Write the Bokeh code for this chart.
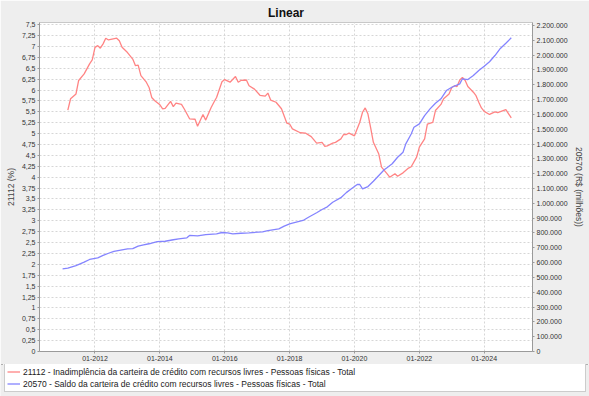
import pandas as pd
from bokeh.plotting import figure
from bokeh.layouts import column, row
from bokeh.models import (Range1d, LinearAxis, FixedTicker, DatetimeTickFormatter,
                          Legend, LegendItem, ColumnDataSource)
from bokeh.embed import file_html
from bokeh.resources import INLINE

title_text = "Linear"
red_label = "21112 - Inadimplência da carteira de crédito com recursos livres - Pessoas físicas - Total"
blue_label = "20570 - Saldo da carteira de crédito com recursos livres - Pessoas físicas - Total"
left_axis_label = "21112 (%)"
right_axis_label = "20570 (R$ (milhões))"

red_months = ["2011-03", "2011-04", "2011-06", "2011-07", "2011-09", "2011-11", "2011-12",
              "2012-01", "2012-02", "2012-03", "2012-04", "2012-05", "2012-06", "2012-09",
              "2012-10", "2012-11", "2013-01", "2013-03", "2013-04", "2013-05", "2013-06",
              "2013-08", "2013-09", "2013-10", "2013-11", "2014-01", "2014-02", "2014-03",
              "2014-05", "2014-06", "2014-07", "2014-09", "2014-10", "2014-12", "2015-02",
              "2015-03", "2015-05", "2015-06", "2015-08", "2015-09", "2015-10", "2015-12",
              "2016-01", "2016-03", "2016-05", "2016-06", "2016-07", "2016-09", "2016-10",
              "2016-12", "2017-02", "2017-04", "2017-05", "2017-06", "2017-08", "2017-10",
              "2017-12", "2018-01", "2018-02", "2018-05", "2018-07", "2018-09", "2018-11",
              "2019-01", "2019-02", "2019-03", "2019-05", "2019-06", "2019-08", "2019-09",
              "2019-10", "2019-11", "2020-01", "2020-02", "2020-03", "2020-04", "2020-05",
              "2020-06", "2020-07", "2020-08", "2020-10", "2020-11", "2021-01", "2021-02",
              "2021-04", "2021-05", "2021-07", "2021-09", "2021-10", "2021-12", "2022-01",
              "2022-03", "2022-04", "2022-06", "2022-07", "2022-09", "2022-10", "2022-12",
              "2023-01", "2023-02", "2023-03", "2023-04", "2023-05", "2023-06", "2023-07",
              "2023-09", "2023-10", "2023-11", "2023-12", "2024-01", "2024-03", "2024-05",
              "2024-06", "2024-09", "2024-11"]
red_values = [5.54, 5.80, 5.91, 6.22, 6.37, 6.60, 6.69,
              6.98, 7.02, 6.96, 7.06, 7.19, 7.15, 7.19,
              7.13, 6.98, 6.86, 6.71, 6.56, 6.57, 6.33,
              6.18, 6.06, 5.83, 5.76, 5.66, 5.57, 5.58,
              5.74, 5.62, 5.70, 5.67, 5.57, 5.34, 5.33,
              5.17, 5.44, 5.31, 5.60, 5.72, 5.83, 6.19,
              6.24, 6.18, 6.31, 6.18, 6.22, 6.23, 6.10,
              6.02, 5.88, 5.86, 5.93, 5.77, 5.72, 5.57,
              5.24, 5.22, 5.11, 5.02, 5.01, 4.93, 4.78,
              4.80, 4.71, 4.72, 4.78, 4.80, 4.88, 4.98,
              4.98, 5.01, 4.95, 5.11, 5.26, 5.49, 5.59,
              5.45, 5.14, 4.80, 4.53, 4.23, 4.08, 4.00,
              4.08, 4.02, 4.10, 4.21, 4.24, 4.46, 4.69,
              4.88, 5.22, 5.26, 5.53, 5.67, 5.80, 5.91,
              6.06, 6.10, 6.08, 6.23, 6.29, 6.22, 6.08,
              5.95, 5.87, 5.72, 5.59, 5.51, 5.44, 5.50,
              5.48, 5.55, 5.36]

blue_months = ["2011-01", "2011-03", "2011-06", "2011-09", "2011-11", "2012-02", "2012-04",
               "2012-06", "2012-08", "2012-11", "2013-01", "2013-03", "2013-05", "2013-07",
               "2013-09", "2013-12", "2014-03", "2014-06", "2014-08", "2014-11", "2014-12",
               "2015-03", "2015-06", "2015-10", "2015-12", "2016-02", "2016-04", "2016-07",
               "2016-10", "2017-03", "2017-05", "2017-09", "2017-11", "2018-01", "2018-02",
               "2018-06", "2018-08", "2018-11", "2019-01", "2019-03", "2019-05", "2019-08",
               "2019-10", "2019-12", "2020-02", "2020-03", "2020-04", "2020-06", "2020-08",
               "2020-10", "2020-12", "2021-01", "2021-03", "2021-05", "2021-07", "2021-08",
               "2021-10", "2021-11", "2022-01", "2022-03", "2022-05", "2022-07", "2022-09",
               "2022-11", "2023-01", "2023-04", "2023-05", "2023-07", "2023-09", "2023-11",
               "2024-01", "2024-03", "2024-05", "2024-07", "2024-09", "2024-11"]
blue_values = [558000, 562000, 580000, 603000, 621000, 632000, 648000,
               663000, 675000, 686000, 693000, 694000, 711000, 720000,
               727000, 742000, 744000, 754000, 760000, 767000, 783000,
               780000, 789000, 794000, 803000, 801000, 794000, 798000,
               801000, 807000, 816000, 828000, 846000, 861000, 866000,
               884000, 906000, 936000, 958000, 976000, 1007000, 1038000,
               1072000, 1100000, 1127000, 1127000, 1097000, 1113000, 1149000,
               1188000, 1226000, 1240000, 1267000, 1311000, 1345000, 1401000,
               1468000, 1513000, 1536000, 1592000, 1637000, 1675000, 1705000,
               1761000, 1783000, 1806000, 1840000, 1835000, 1862000, 1896000,
               1925000, 1955000, 1997000, 2045000, 2080000, 2117000]

x_tick_labels = ["01-2012", "01-2014", "01-2016", "01-2018", "01-2020", "01-2022", "01-2024"]
left_tick_labels = ["0", "0,25", "0,5", "0,75", "1", "1,25", "1,5", "1,75", "2", "2,25",
                    "2,5", "2,75", "3", "3,25", "3,5", "3,75", "4", "4,25", "4,5", "4,75",
                    "5", "5,25", "5,5", "5,75", "6", "6,25", "6,5", "6,75", "7", "7,25", "7,5"]
right_tick_labels = ["0", "100.000", "200.000", "300.000", "400.000", "500.000", "600.000",
                     "700.000", "800.000", "900.000", "1.000.000", "1.100.000", "1.200.000",
                     "1.300.000", "1.400.000", "1.500.000", "1.600.000", "1.700.000",
                     "1.800.000", "1.900.000", "2.000.000", "2.100.000", "2.200.000"]

RED = "#ff8484"
BLUE = "#8484ff"
BG = "#eeeeee"
TICK_FONT = "Liberation Sans"

red_src = ColumnDataSource(dict(x=pd.to_datetime(red_months), y=red_values))
blue_src = ColumnDataSource(dict(x=pd.to_datetime(blue_months), y=blue_values))

x_ticks = [pd.Timestamp(f"{s[3:]}-{s[:2]}-01").value / 1e6 for s in x_tick_labels]
left_ticks = [float(s.replace(",", ".")) for s in left_tick_labels]
right_ticks = [int(s.replace(".", "")) for s in right_tick_labels]

p = figure(width=589, height=364, x_axis_type="datetime", output_backend="svg",
           toolbar_location=None,
           x_range=Range1d(pd.Timestamp("2010-04-16"), pd.Timestamp("2025-06-28")),
           y_range=Range1d(0, 7.55),
           min_border_left=39, min_border_right=57, min_border_top=22, min_border_bottom=13,
           border_fill_color=BG, background_fill_color="white",
           outline_line_color="#c8c8c8")
p.extra_y_ranges = {"saldo": Range1d(0, 2.22e6)}

p.title.text = title_text
p.title.align = "center"
p.title.offset = 11
p.title.text_font = "Liberation Sans"
p.title.text_font_size = "12px"
p.title.text_font_style = "bold"
p.title.text_color = "#111111"
p.title.standoff = 5

def style_axis(ax):
    ax.axis_line_color = "#9a9a9a"
    ax.major_tick_line_color = "#9a9a9a"
    ax.major_tick_out = 2
    ax.major_tick_in = 0
    ax.minor_tick_line_color = None
    ax.major_label_text_font = TICK_FONT
    ax.major_label_text_font_size = "7px"
    ax.major_label_text_color = "#333333"
    ax.major_label_standoff = 2
    ax.axis_label_text_font = TICK_FONT
    ax.axis_label_text_font_size = "8.5px"
    ax.axis_label_text_font_style = "normal"
    ax.axis_label_text_color = "#444444"
    ax.axis_label_standoff = 3

xa = p.xaxis[0]
style_axis(xa)
xa.ticker = FixedTicker(ticks=x_ticks)
xa.formatter = DatetimeTickFormatter(years="%m-%Y", months="%m-%Y", days="%m-%Y",
                                     hours="%m-%Y", minutes="%m-%Y", seconds="%m-%Y",
                                     milliseconds="%m-%Y", microseconds="%m-%Y",
                                     hourmin="%m-%Y", minsec="%m-%Y")

ya = p.yaxis[0]
style_axis(ya)
ya.ticker = FixedTicker(ticks=left_ticks)
ya.major_label_overrides = {t: s for t, s in zip(left_ticks, left_tick_labels)}
ya.axis_label = left_axis_label

ra = LinearAxis(y_range_name="saldo", axis_label=right_axis_label)
style_axis(ra)
ra.ticker = FixedTicker(ticks=right_ticks)
ra.major_label_overrides = {t: s for t, s in zip(right_ticks, right_tick_labels)}
p.add_layout(ra, "right")

for g in (p.xgrid[0], p.ygrid[0]):
    g.grid_line_color = "#d6d6d6"
    g.grid_line_dash = "2 2"
    g.grid_line_width = 1
p.xgrid[0].ticker = FixedTicker(ticks=x_ticks)
p.ygrid[0].ticker = FixedTicker(ticks=left_ticks)

r_red = p.line("x", "y", source=red_src, line_color=RED, line_width=1.3)
r_blue = p.line("x", "y", source=blue_src, line_color=BLUE, line_width=1.3,
                y_range_name="saldo")

# legend strip below the chart (its own series renderers lie outside its view)
pl = figure(width=589, height=32, output_backend="svg", toolbar_location=None,
            x_axis_location=None, y_axis_location=None,
            x_range=Range1d(0, 1), y_range=Range1d(0, 1),
            min_border_left=0, min_border_right=0,
            min_border_top=0, min_border_bottom=0,
            border_fill_color=BG, background_fill_color=BG, outline_line_color=None)
pl.xgrid.visible = False
pl.ygrid.visible = False
l_red = pl.line("x", "y", source=red_src, line_color=RED, line_width=1.3)
l_blue = pl.line("x", "y", source=blue_src, line_color=BLUE, line_width=1.3)

legend = Legend(items=[LegendItem(label=red_label, renderers=[l_red]),
                       LegendItem(label=blue_label, renderers=[l_blue])],
                location=(4, 4), orientation="vertical",
                label_text_font=TICK_FONT, label_text_font_size="8.5px",
                label_text_color="#222222",
                glyph_width=13, glyph_height=11, label_height=11, label_standoff=3,
                label_width=560, spacing=1, padding=2, margin=0,
                border_line_color="#9a9a9a", border_line_width=1,
                background_fill_color="white", background_fill_alpha=1.0)
pl.add_layout(legend, "center")

layout = column(p, row(pl), spacing=0,
                styles={"outline": "2px solid #707070", "outline-offset": "-3px"})
open("out.html", "w").write(file_html(layout, INLINE))
